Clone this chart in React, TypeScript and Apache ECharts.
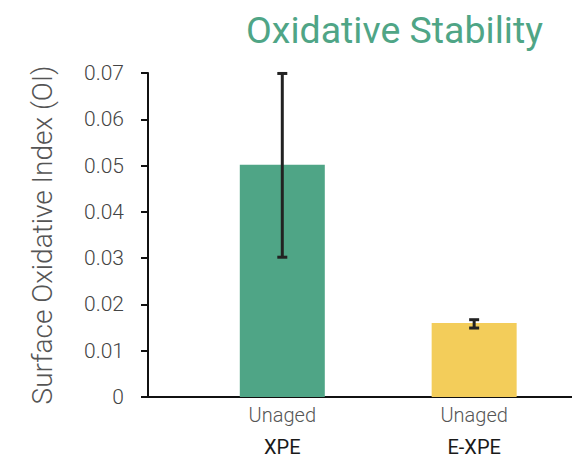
import React, { useEffect, useRef } from "react";
import * as echarts from "echarts";

const categories = ["XPE", "E-XPE"];
const subLabels = ["Unaged", "Unaged"];
const positions = [1, 2];
const values = [0.0502, 0.016];
const errLow = [0.0302, 0.0149];
const errHigh = [0.0699, 0.0167];
const barColors = ["#4fa586", "#f3cd5a"];

export default function App() {
  const ref = useRef<HTMLDivElement>(null);
  useEffect(() => {
    if (!ref.current) return;
    const chart = echarts.init(ref.current, undefined, { renderer: "svg" });
    const font = "Roboto";
    chart.setOption({
      animation: false,
      textStyle: { fontFamily: font },
      title: {
        text: "Oxidative Stability",
        left: 241,
        top: 6,
        textStyle: { color: "#4fa586", fontSize: 37.5, fontWeight: "normal", fontFamily: font },
      },
      grid: { left: 148, right: 0, top: 73, bottom: 62 },
      xAxis: {
        type: "value",
        min: 0.3,
        max: 2.51,
        axisLine: { show: true, onZero: false, lineStyle: { color: "#111", width: 2 } },
        axisTick: { show: false },
        splitLine: { show: false },
        axisLabel: {
          customValues: positions,
          margin: 2,
          formatter: (v: number) => {
            const i = positions.indexOf(Math.round(v));
            if (i < 0) return "";
            return `{a|${subLabels[i]}}\n{b|${categories[i]}}`;
          },
          rich: {
            a: { fontSize: 20, color: "#555", lineHeight: 32, fontFamily: font, fontWeight: 300 },
            b: { fontSize: 20, color: "#1a1a1a", lineHeight: 32, fontFamily: font },
          },
        },
      },
      yAxis: {
        type: "value",
        min: 0,
        max: 0.07,
        interval: 0.01,
        name: "Surface Oxidative Index (OI)",
        nameLocation: "middle",
        nameGap: 92,
        nameTextStyle: { fontSize: 28, color: "#555", fontFamily: font, fontWeight: 300 },
        axisLine: { show: true, lineStyle: { color: "#111", width: 2 } },
        axisTick: { show: true, length: 7, lineStyle: { color: "#111", width: 2 } },
        splitLine: { show: false },
        axisLabel: {
          margin: 24,
          fontSize: 21,
          color: "#444",
          fontFamily: font,
          fontWeight: 300,
          formatter: (v: number) => (Math.abs(v) < 1e-9 ? "0" : v.toFixed(2)),
        },
      },
      series: [
        {
          type: "bar",
          barWidth: 85,
          data: positions.map((p, i) => ({
            value: [p, values[i]],
            itemStyle: { color: barColors[i] },
          })),
        },
        {
          type: "custom",
          z: 10,
          data: positions.map((p, i) => [p, errLow[i], errHigh[i]]),
          renderItem: (params: any, api: any) => {
            const x = api.value(0);
            const lo = api.coord([x, api.value(1)]);
            const hi = api.coord([x, api.value(2)]);
            const cap = 5;
            const style = { stroke: "#222", lineWidth: 3 };
            return {
              type: "group",
              children: [
                { type: "line", shape: { x1: lo[0], y1: lo[1], x2: hi[0], y2: hi[1] }, style },
                { type: "line", shape: { x1: hi[0] - cap, y1: hi[1], x2: hi[0] + cap, y2: hi[1] }, style },
                { type: "line", shape: { x1: lo[0] - cap, y1: lo[1], x2: lo[0] + cap, y2: lo[1] }, style },
              ],
            };
          },
        },
      ],
    });
    return () => chart.dispose();
  }, []);
  return (
    <div
      ref={ref}
      style={{ position: "fixed", left: 0, top: 0, width: 572, height: 459, background: "#fff" }}
    />
  );
}
